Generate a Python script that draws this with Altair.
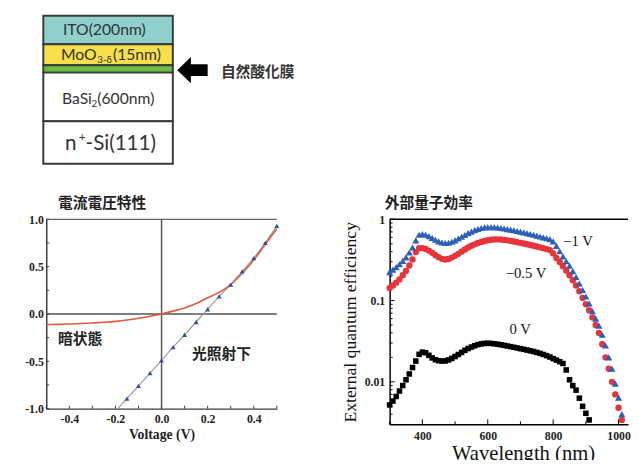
import altair as alt
import pandas as pd

# ======================= DATA =======================
# --- device structure (schematic, drawn thickness in diagram units) ---
layer_names = ["ITO", "MoO3-δ", "native oxide", "BaSi2", "n+-Si(111)"]
layer_thickness = [29, 21.5, 7.5, 49.5, 43.5]
layer_colors = ["#8fd0cd", "#f6df4a", "#6bbd46", "#ffffff", "#ffffff"]

# --- current-voltage characteristics ---
dark_v = [-0.50, -0.45, -0.40, -0.35, -0.30, -0.25, -0.20, -0.15, -0.10, -0.05, 0.00,
          0.05, 0.10, 0.15, 0.20, 0.25, 0.30, 0.35, 0.40, 0.45, 0.50]
dark_j = [-0.113, -0.110, -0.106, -0.101, -0.095, -0.088, -0.078, -0.064, -0.045, -0.024, 0.000,
          0.030, 0.064, 0.110, 0.172, 0.228, 0.310, 0.430, 0.570, 0.735, 0.900]
light_v = [-0.15, -0.10, -0.05, 0.00, 0.05, 0.10, 0.15, 0.20, 0.25, 0.30, 0.35, 0.40, 0.45, 0.50]
light_j = [-0.895, -0.760, -0.625, -0.490, -0.350, -0.220, -0.085, 0.050, 0.185, 0.310, 0.450, 0.590, 0.750, 0.930]
light_line_v = [-0.19] + light_v
light_line_j = [-1.00] + light_j

# --- external quantum efficiency ---
wl_bias = list(range(300, 1011, 10))
eqe_m1 = [0.224, 0.240, 0.258, 0.280, 0.308, 0.340, 0.390, 0.450, 0.550, 0.645,
          0.660, 0.645, 0.620, 0.590, 0.560, 0.535, 0.518, 0.510, 0.515, 0.530,
          0.550, 0.580, 0.610, 0.640, 0.675, 0.705, 0.735, 0.760, 0.780, 0.795,
          0.800, 0.802, 0.800, 0.792, 0.782, 0.770, 0.758, 0.745, 0.732, 0.718,
          0.705, 0.690, 0.675, 0.660, 0.645, 0.630, 0.615, 0.600, 0.585, 0.570,
          0.535, 0.470, 0.405, 0.350, 0.305, 0.268, 0.230, 0.195, 0.162, 0.135,
          0.112, 0.092, 0.074, 0.060, 0.049, 0.038, 0.028, 0.020, 0.0145, 0.0095,
          0.0064, 0.0040]
eqe_m05 = [0.143, 0.153, 0.166, 0.182, 0.205, 0.232, 0.270, 0.320, 0.395, 0.440,
           0.442, 0.432, 0.412, 0.388, 0.362, 0.342, 0.326, 0.320, 0.325, 0.338,
           0.355, 0.376, 0.400, 0.425, 0.450, 0.472, 0.492, 0.510, 0.527, 0.541,
           0.552, 0.560, 0.565, 0.566, 0.564, 0.558, 0.551, 0.542, 0.533, 0.523,
           0.513, 0.503, 0.493, 0.483, 0.473, 0.463, 0.452, 0.441, 0.430, 0.418,
           0.380, 0.335, 0.298, 0.265, 0.234, 0.205, 0.178, 0.153, 0.130, 0.108,
           0.090, 0.076, 0.062, 0.050, 0.040, 0.029, 0.020, 0.0145, 0.0100, 0.0070,
           0.0048, 0.0034]
wl_zero = list(range(300, 911, 10))
eqe_0 = [0.0052, 0.0058, 0.0066, 0.0077, 0.0090, 0.0106, 0.0125, 0.0150, 0.0180, 0.0218,
         0.0232, 0.0228, 0.0212, 0.0197, 0.0187, 0.0182, 0.0180, 0.0181, 0.0186, 0.0194,
         0.0205, 0.0217, 0.0230, 0.0244, 0.0257, 0.0268, 0.0278, 0.0287, 0.0293, 0.0297,
         0.0298, 0.0297, 0.0294, 0.0290, 0.0286, 0.0281, 0.0276, 0.0271, 0.0266, 0.0261,
         0.0256, 0.0251, 0.0246, 0.0241, 0.0236, 0.0230, 0.0224, 0.0217, 0.0210, 0.0202,
         0.0193, 0.0185, 0.0177, 0.0168, 0.0140, 0.0106, 0.0090, 0.0079, 0.0063, 0.0050,
         0.0041, 0.0034]

# --- annotations ---
jv_labels = ["暗状態", "光照射下"]
jv_label_v = [-0.353, 0.26]
jv_label_j = [-0.266, -0.424]
eqe_labels = ["−1 V", "−0.5 V", "0 V"]
eqe_label_wl = [876, 717, 699]
eqe_label_val = [0.54, 0.22, 0.044]

# --- tick values ---
jv_x_labels = [-0.4, -0.2, 0.0, 0.2, 0.4]
jv_x_ticks = [-0.5, -0.4, -0.3, -0.2, -0.1, 0.0, 0.1, 0.2, 0.3, 0.4, 0.5]
jv_y_labels = [-1.0, -0.5, 0.0, 0.5, 1.0]
jv_y_ticks = [-1.0, -0.75, -0.5, -0.25, 0.0, 0.25, 0.5, 0.75, 1.0]
eqe_x_labels = [400, 600, 800, 1000]
eqe_x_minor = [300, 500, 700, 900]
eqe_y_labels = [0.01, 0.1, 1]
eqe_y_minor = [0.003, 0.004, 0.005, 0.006, 0.007, 0.008, 0.009,
               0.02, 0.03, 0.04, 0.05, 0.06, 0.07, 0.08, 0.09,
               0.2, 0.3, 0.4, 0.5, 0.6, 0.7, 0.8, 0.9]

# ======================= STYLE / LAYOUT =======================
SERIF = "Liberation Serif"
CJK = "Noto Sans CJK JP"
SANS = "Lato"

SW, SH = 270, 152            # structure panel
BOX_X0, BOX_X1 = -3, 129
JW, JH = 235, 193            # J-V panel
EW, EH = 243, 209            # EQE panel
EQE_XMAX = 300 + EW * 3

# ======================= STRUCTURE =======================
bounds = [0.5]
for t in layer_thickness:
    bounds.append(bounds[-1] + t)
struct_df = pd.DataFrame({
    "name": layer_names,
    "x0": [BOX_X0] * len(layer_names),
    "x1": [BOX_X1] * len(layer_names),
    "y0": bounds[:-1],
    "y1": bounds[1:],
})
sx = alt.Scale(domain=[0, SW], nice=False, zero=False)
sy = alt.Scale(domain=[0, SH], nice=False, zero=False, reverse=True)

rects = alt.Chart(struct_df).mark_rect(stroke="#3a3a3a", strokeWidth=2).encode(
    x=alt.X("x0:Q", scale=sx, axis=None), x2="x1:Q",
    y=alt.Y("y0:Q", scale=sy, axis=None), y2="y1:Q",
    color=alt.Color("name:N", scale=alt.Scale(domain=layer_names, range=layer_colors), legend=None),
)

struct_txt = pd.DataFrame({
    "t": ["ITO(200nm)", "MoO", "3-δ", "(15nm)", "BaSi", "2", "(600nm)", "n", "+", "-Si(111)"],
    "x": [17, 15, 52, 68, 16, 46, 52, 19, 33, 40],
    "y": [15, 40.5, 46, 40.5, 86, 91, 86, 131, 124, 131],
    "s": [16, 16, 10, 16, 16, 10, 16, 21, 12, 21],
})
struct_text = alt.Chart(struct_txt).mark_text(align="left", baseline="middle", font=SANS, color="#333333").encode(
    x=alt.X("x:Q", scale=sx, axis=None), y=alt.Y("y:Q", scale=sy, axis=None),
    text="t:N", size=alt.Size("s:Q", scale=None),
)

arrow_path = "M -1 0 L -0.1 -0.86 L -0.1 -0.39 L 1 -0.39 L 1 0.39 L -0.1 0.39 L -0.1 0.86 Z"
arrow = alt.Chart(pd.DataFrame({"x": [149], "y": [56]})).mark_point(
    shape=arrow_path, filled=True, color="black", opacity=1, size=961, strokeWidth=0
).encode(x=alt.X("x:Q", scale=sx, axis=None), y=alt.Y("y:Q", scale=sy, axis=None))

oxide_label = alt.Chart(pd.DataFrame({"t": ["自然酸化膜"], "x": [178], "y": [58]})).mark_text(
    align="left", baseline="middle", font=CJK, fontSize=15, fontWeight="bold", color="#333333"
).encode(x=alt.X("x:Q", scale=sx, axis=None), y=alt.Y("y:Q", scale=sy, axis=None), text="t:N")

struct = alt.layer(rects, struct_text, arrow, oxide_label).properties(width=SW, height=SH)

# ======================= J-V =======================
jx = alt.Scale(domain=[-0.5, 0.5], nice=False, zero=False)
jy = alt.Scale(domain=[-1, 1], nice=False, zero=False)
JX_AX = alt.Axis(values=jv_x_labels, ticks=False, grid=False, domainColor="#3c3c3c", domainWidth=1.5,
                 labelExpr="replace(format(datum.value, '.1f'), '−', '-')",
                 labelFont=SERIF, labelFontSize=12, labelFontWeight="bold", labelPadding=5, labelColor="#222",
                 title="Voltage (V)", titleFont=SERIF, titleFontSize=14, titleFontWeight="bold",
                 titlePadding=3, titleColor="#222")
JY_AX = alt.Axis(values=jv_y_labels, ticks=False, grid=False, domainColor="#3c3c3c", domainWidth=1.5,
                 labelExpr="replace(format(datum.value, '.1f'), '−', '-')",
                 labelFont=SERIF, labelFontSize=12, labelFontWeight="bold", labelPadding=3, labelColor="#222",
                 title=None)

def JX(f="v"):
    return alt.X(f"{f}:Q", scale=jx, axis=JX_AX)

def JY(f="j"):
    return alt.Y(f"{f}:Q", scale=jy, axis=JY_AX)

zero_v = alt.Chart(pd.DataFrame({"v": [0.0]})).mark_rule(color="#555555", strokeWidth=1.5).encode(x=JX())
zero_j = alt.Chart(pd.DataFrame({"j": [0.0]})).mark_rule(color="#555555", strokeWidth=1.5).encode(y=JY())
top_j = alt.Chart(pd.DataFrame({"j": [1.0]})).mark_rule(color="#3c3c3c", strokeWidth=1).encode(
    y=JY(), x=alt.value(0), x2=alt.value(JW))

light_line = alt.Chart(pd.DataFrame({"v": light_line_v, "j": light_line_j})).mark_line(
    color="#9a9a9a", strokeWidth=1.2, clip=True).encode(x=JX(), y=JY())
dark_line = alt.Chart(pd.DataFrame({"v": dark_v, "j": dark_j})).mark_line(
    color="#e0583f", strokeWidth=1.6, interpolate="monotone").encode(x=JX(), y=JY())
light_pts = alt.Chart(pd.DataFrame({"v": light_v, "j": light_j})).mark_point(
    shape="triangle-up", filled=True, color="#2b54a8", opacity=1, size=26).encode(x=JX(), y=JY())

jv_xt = alt.Chart(pd.DataFrame({"v": jv_x_ticks})).mark_rule(color="#3c3c3c").encode(
    x=JX(), y=alt.value(JH), y2=alt.value(JH - 3))
jv_yt = alt.Chart(pd.DataFrame({"j": jv_y_ticks})).mark_rule(color="#3c3c3c").encode(
    y=JY(), x=alt.value(0), x2=alt.value(3))

jv_text = alt.Chart(pd.DataFrame({"t": jv_labels, "v": jv_label_v, "j": jv_label_j})).mark_text(
    font=CJK, fontSize=15, fontWeight="bold", color="#222", baseline="middle").encode(
    x=JX(), y=JY(), text="t:N")

jv = alt.layer(zero_v, zero_j, top_j, light_line, dark_line, light_pts, jv_xt, jv_yt, jv_text).properties(
    width=JW, height=JH,
    title=alt.TitleParams(text="電流電圧特性", anchor="start", frame="group", dx=12, offset=3,
                          font=CJK, fontSize=15, fontWeight="bold", color="#222"),
)

# ======================= EQE =======================
ex = alt.Scale(domain=[300, EQE_XMAX], nice=False, zero=False)
ey = alt.Scale(type="log", domain=[0.003, 1], nice=False)
EX_AX = alt.Axis(values=eqe_x_labels, ticks=False, grid=False, domainColor="black", domainWidth=1.5,
                 format="d", labelFont=SERIF, labelFontSize=12, labelFontWeight="bold", labelPadding=6,
                 labelColor="#222", title="Wavelength (nm)", titleFont=SERIF, titleFontSize=21,
                 titleFontWeight="normal", titlePadding=2, titleColor="#111", titleX=136)
EY_AX = alt.Axis(values=eqe_y_labels, ticks=False, grid=False, domainColor="black", domainWidth=1.5,
                 format=".2~f", labelFont=SERIF, labelFontSize=12, labelFontWeight="bold", labelPadding=5,
                 labelColor="#222", title="External quantum efficiency", titleFont=SERIF, titleFontSize=18,
                 titleFontWeight="normal", titlePadding=5, titleColor="#111")

def EX(f="wl"):
    return alt.X(f"{f}:Q", scale=ex, axis=EX_AX)

def EY(f="eqe"):
    return alt.Y(f"{f}:Q", scale=ey, axis=EY_AX)

top_e = alt.Chart(pd.DataFrame({"eqe": [1.0]})).mark_rule(color="black", strokeWidth=1.5).encode(
    y=EY(), x=alt.value(0), x2=alt.value(EW))
s_m05 = alt.Chart(pd.DataFrame({"wl": wl_bias, "eqe": eqe_m05})).mark_point(
    shape="circle", filled=True, color="#e8333a", opacity=1, size=42).encode(x=EX(), y=EY())
s_m1 = alt.Chart(pd.DataFrame({"wl": wl_bias, "eqe": eqe_m1})).mark_point(
    shape="triangle-up", filled=True, color="#2c5fb8", opacity=1, size=52).encode(x=EX(), y=EY())
s_0 = alt.Chart(pd.DataFrame({"wl": wl_zero, "eqe": eqe_0})).mark_point(
    shape="square", filled=True, color="black", opacity=1, size=32).encode(x=EX(), y=EY())

e_xt_major = alt.Chart(pd.DataFrame({"wl": eqe_x_labels})).mark_rule(color="black").encode(
    x=EX(), y=alt.value(EH), y2=alt.value(EH - 5))
e_xt_minor = alt.Chart(pd.DataFrame({"wl": eqe_x_minor})).mark_rule(color="black").encode(
    x=EX(), y=alt.value(EH), y2=alt.value(EH - 3))
e_yt_major = alt.Chart(pd.DataFrame({"eqe": eqe_y_labels})).mark_rule(color="black").encode(
    y=EY(), x=alt.value(0), x2=alt.value(5))
e_yt_minor = alt.Chart(pd.DataFrame({"eqe": eqe_y_minor})).mark_rule(color="black").encode(
    y=EY(), x=alt.value(0), x2=alt.value(3))

e_text = alt.Chart(pd.DataFrame({"t": eqe_labels, "wl": eqe_label_wl, "eqe": eqe_label_val})).mark_text(
    font=SERIF, fontSize=15, color="#111", baseline="middle").encode(x=EX(), y=EY(), text="t:N")

eqe = alt.layer(top_e, s_m05, s_m1, s_0, e_xt_major, e_xt_minor, e_yt_major, e_yt_minor, e_text).properties(
    width=EW, height=EH,
    title=alt.TitleParams(text="外部量子効率", anchor="start", frame="group", dx=-5, offset=3,
                          font=CJK, fontSize=15, fontWeight="bold", color="#222"),
)

bottom = alt.hconcat(jv, eqe, spacing=62).resolve_scale(x="independent", y="independent")
chart = alt.vconcat(struct, bottom, spacing=31).resolve_scale(
    x="independent", y="independent", color="independent"
).properties(
    padding={"left": 17, "top": 2, "right": 0, "bottom": -8}
).configure(background="white", view=alt.ViewConfig(stroke=None))

chart.save("out.html", embed_options={"renderer": "svg", "actions": False})
